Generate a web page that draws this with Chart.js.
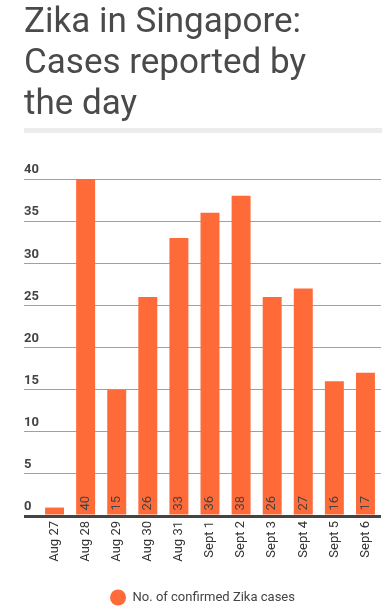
<!DOCTYPE html>
<html>
<head>
<meta charset="utf-8">
<script src="https://cdn.jsdelivr.net/npm/chart.js@4"></script>
<style>
  html, body { margin: 0; padding: 0; background: #fff; }
  body { width: 392px; height: 614px; position: relative; overflow: hidden; }
  #title {
    position: absolute; left: 24px; top: 0;
    font: 35px/41px Roboto, sans-serif; color: #4a4a4a;
  }
  #rule { position: absolute; left: 24px; top: 128px; width: 358px; height: 5px; background: #ececec; }
  #wrap { position: absolute; left: 0; top: 0; width: 392px; height: 614px; }
</style>
</head>
<body>
<div id="wrap"><canvas id="chart"></canvas></div>
<div id="title">Zika in Singapore:<br>Cases reported by<br>the day</div>
<div id="rule"></div>
<script>
// days and confirmed cases
const days = ["Aug 27", "Aug 28", "Aug 29", "Aug 30", "Aug 31", "Sept 1", "Sept 2", "Sept 3", "Sept 4", "Sept 5", "Sept 6"];
const cases = [1, 40, 15, 26, 33, 36, 38, 26, 27, 16, 17];
const seriesName = "No. of confirmed Zika cases";

const ORANGE = "#ff6a39";
const TEXT = "#444";

// draws the value inside each bar, rotated, near the base
const barValues = {
  id: "barValues",
  afterDatasetsDraw(chart) {
    const ctx = chart.ctx;
    const meta = chart.getDatasetMeta(0);
    ctx.save();
    ctx.font = "13px Roboto, sans-serif";
    ctx.fillStyle = TEXT;
    ctx.textAlign = "left";
    ctx.textBaseline = "middle";
    meta.data.forEach((bar, i) => {
      const label = String(cases[i]);
      const w = ctx.measureText(label).width;
      // skip if it doesn't fit in the bar
      if (bar.base - bar.y < w + 8) return;
      ctx.save();
      ctx.translate(bar.x, bar.base - 4);
      ctx.rotate(-Math.PI / 2);
      ctx.fillText(label, 0, 0);
      ctx.restore();
    });
    ctx.restore();
  },
};

new Chart(document.getElementById("chart"), {
  type: "bar",
  data: {
    labels: days,
    datasets: [
      {
        label: seriesName,
        data: cases,
        backgroundColor: ORANGE,
        borderWidth: 0,
        categoryPercentage: 1,
        barPercentage: 0.61,
      },
    ],
  },
  options: {
    responsive: true,
    maintainAspectRatio: false,
    animation: false,
    layout: { padding: { top: 179, left: 24, right: 11, bottom: 0 } },
    plugins: {
      tooltip: { enabled: false },
      legend: {
        position: "bottom",
        labels: {
          usePointStyle: true,
          pointStyle: "circle",
          boxHeight: 11.3,
          pointStyleWidth: 16,
          padding: 6,
          color: TEXT,
          font: { family: "Roboto", size: 13 },
        },
      },
    },
    scales: {
      x: {
        grid: { display: false, drawTicks: false },
        border: { display: false },
        ticks: {
          color: "#333",
          font: { family: "Roboto", size: 13 },
          minRotation: 90,
          maxRotation: 90,
          padding: 5,
          autoSkip: false,
        },
        afterFit: (axis) => {
          axis.height = 69;
        },
      },
      y: {
        min: 0,
        max: 40,
        border: { display: false },
        grid: {
          color: (c) => (c.tick && c.tick.value === 0 ? "#444" : "#a0a0a0"),
          lineWidth: (c) => (c.tick && c.tick.value === 0 ? 3 : 1),
          tickLength: 15,
        },
        ticks: {
          stepSize: 5,
          crossAlign: "far",
          labelOffset: -9,
          padding: 0,
          color: TEXT,
          font: { family: "Roboto", size: 13, weight: "bold" },
        },
        afterFit: (axis) => {
          axis.width = 15;
        },
      },
    },
  },
  plugins: [barValues],
});
</script>
</body>
</html>
